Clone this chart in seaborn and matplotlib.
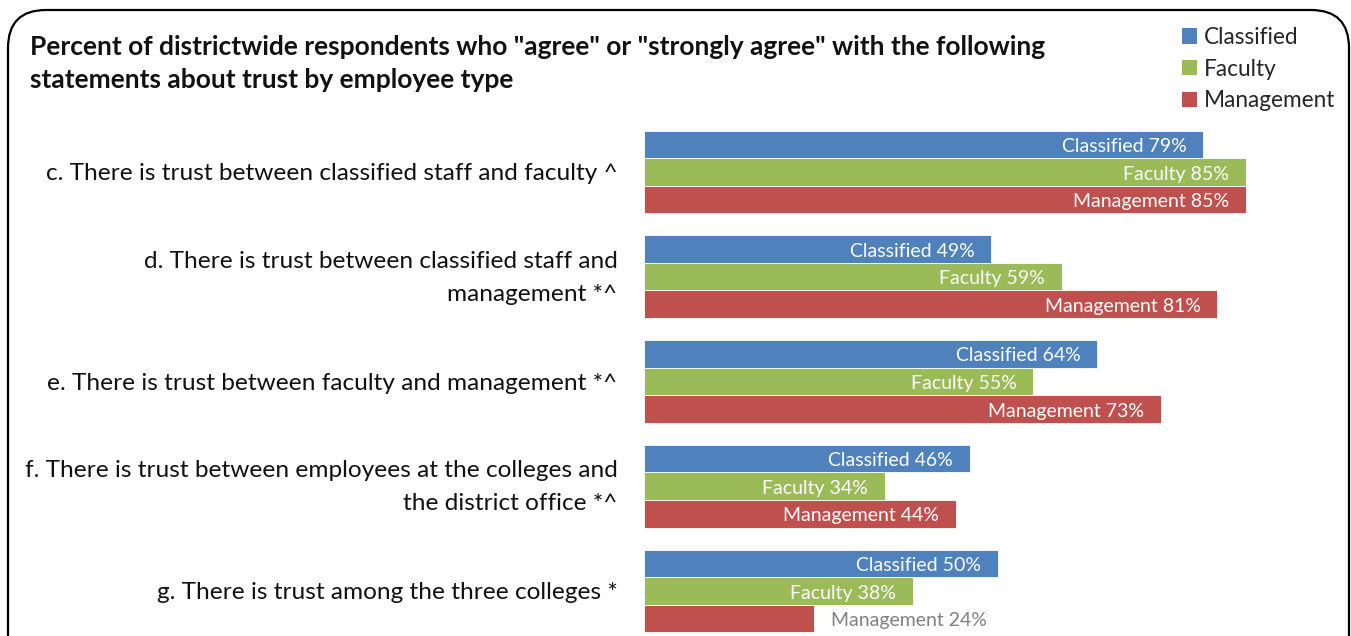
import matplotlib
matplotlib.use('Agg')
import matplotlib.pyplot as plt
import matplotlib.transforms as mtransforms
import seaborn as sns
import pandas as pd
from matplotlib.patches import FancyBboxPatch, Patch

statements = [
    "c. There is trust between classified staff and faculty ^",
    "d. There is trust between classified staff and\nmanagement *^",
    "e. There is trust between faculty and management *^",
    "f. There is trust between employees at the colleges and\nthe district office *^",
    "g. There is trust among the three colleges *",
]
groups = ["Classified", "Faculty", "Management"]
classified = [79, 49, 64, 46, 50]
faculty = [85, 59, 55, 34, 38]
management = [85, 81, 73, 44, 24]
colors = ["#4F81BD", "#9BBB59", "#C0504D"]
title = ('Percent of districtwide respondents who "agree" or "strongly agree" with the following\n'
         'statements about trust by employee type')

W, H = 1351, 636
sns.set_theme(style='white')
plt.rcParams['font.family'] = ['Lato', 'DejaVu Sans']

fig = plt.figure(figsize=(W / 100, H / 100), dpi=100)
ax = fig.add_axes([644 / W, 0, 708 / W, (636 - 120) / H])

df = pd.DataFrame({
    'statement': statements * 3,
    'group': [g for g in groups for _ in statements],
    'value': classified + faculty + management,
})
sns.barplot(data=df, y='statement', x='value', hue='group', hue_order=groups,
            palette=colors, orient='h', width=0.79, ax=ax, saturation=1,
            legend=False, edgecolor='white', linewidth=0.6)
ax.set_xlim(0, 100)
ax.set_ylim(4.43, -0.496)
ax.set_xlabel('')
ax.set_ylabel('')
ax.set_xticks([])
for s in ax.spines.values():
    s.set_visible(False)
ax.tick_params(axis='y', length=0, pad=19, labelsize=17.6, labelcolor='#111111')
shift = mtransforms.ScaledTranslation(0, 7 / 100, fig.dpi_scale_trans)
for t in ax.get_yticklabels():
    t.set_ha('right')
    if '\n' in t.get_text():
        t.set_linespacing(1.72)
        t.set_transform(t.get_transform() + shift)

fig.canvas.draw()
renderer = fig.canvas.get_renderer()
for cont, g in zip(ax.containers, groups):
    for bar in cont:
        v = bar.get_width()
        yc = bar.get_y() + bar.get_height() / 2
        label = f"{g} {v:.0f}%"
        t = ax.annotate(label, xy=(v, yc), xytext=(-12, -1.5), textcoords='offset points',
                        ha='right', va='center', color='white', fontsize=14)
        bb = t.get_window_extent(renderer)
        x0 = ax.transData.transform((0, yc))[0]
        if bb.x0 < x0 + 4:
            t.remove()
            ax.annotate(label, xy=(v, yc), xytext=(12, -1.5), textcoords='offset points',
                        ha='left', va='center', color='#808080', fontsize=14)

fig.text(30 / W, 1 - 35 / H, title, ha='left', va='top', fontweight='bold',
         fontsize=19, color='#111111', linespacing=1.45)

handles = [Patch(facecolor=c, edgecolor='none') for c in colors]
fig.legend(handles, groups, loc='upper left', bbox_to_anchor=(1182 / W, 1 - 27 / H),
           frameon=False, handlelength=0.65, handleheight=0.65, handletextpad=0.3,
           labelspacing=0.47, fontsize=16.3, borderaxespad=0, borderpad=0)

box = FancyBboxPatch((8, -40), 1341, 666, boxstyle='round,pad=0,rounding_size=38',
                     transform=mtransforms.IdentityTransform(), fill=False,
                     edgecolor='black', linewidth=1.6)
fig.patches.append(box)

fig.savefig('out.png', dpi=100)
